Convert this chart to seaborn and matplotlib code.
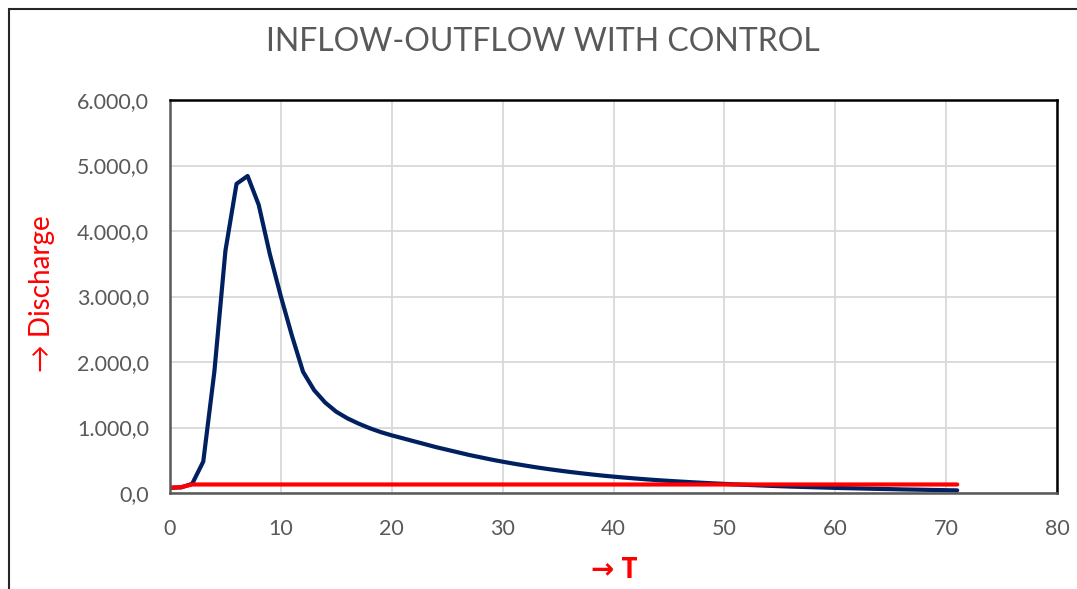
import numpy as np
import pandas as pd
import seaborn as sns
import matplotlib
matplotlib.use('Agg')
import matplotlib.pyplot as plt
from matplotlib.patches import Rectangle
from matplotlib.ticker import FuncFormatter

# hourly hydrograph values
hours = list(range(72))
inflow = [80, 85, 140, 480, 1850, 3700, 4720, 4840, 4400, 3650,
          3000, 2400, 1850, 1570, 1380, 1240, 1140, 1060, 990, 930,
          880, 835, 790, 745, 700, 660, 620, 580, 545, 510,
          478, 448, 420, 393, 368, 345, 323, 303, 284, 266,
          250, 235, 221, 208, 196, 185, 175, 165, 156, 147,
          139, 131, 124, 117, 110, 104, 98, 93, 88, 83,
          78, 74, 70, 66, 62, 59, 55, 52, 49, 46,
          43, 40]
outflow = [80, 90] + [130] * 70

title = "INFLOW-OUTFLOW WITH CONTROL"
xlabel = "\u2192 T"
ylabel = "\u2192 Discharge"

sns.set_style("whitegrid")
plt.rcParams['font.family'] = ['Lato', 'DejaVu Sans']

df = pd.DataFrame({"T": hours, "Inflow": inflow, "Outflow": outflow})

fig = plt.figure(figsize=(10.77, 5.89), dpi=100)
ax = fig.add_axes([170/1077, 1 - 493/589, (1057-170)/1077, (493-100)/589])

sns.lineplot(data=df, x="T", y="Inflow", ax=ax, color="#002060", lw=3.0)
sns.lineplot(data=df, x="T", y="Outflow", ax=ax, color="#FF0000", lw=3.0)

ax.set_xlim(0, 80)
ax.set_ylim(0, 6000)
ax.set_xticks(range(0, 81, 10))
ax.set_yticks(range(0, 6001, 1000))
ax.yaxis.set_major_formatter(FuncFormatter(
    lambda v, p: f"{v:,.1f}".replace(",", "X").replace(".", ",").replace("X", ".")))
ax.grid(True, color="#d9d9d9", lw=1.3)
ax.tick_params(axis='both', labelsize=15.5, colors="#595959", length=0)
ax.tick_params(axis='y', pad=15)
ax.tick_params(axis='x', pad=19)

for s in ['top', 'right']:
    ax.spines[s].set_color('black')
    ax.spines[s].set_linewidth(1.8)
for s in ['left', 'bottom']:
    ax.spines[s].set_color('#595959')
    ax.spines[s].set_linewidth(1.8)

ax.set_xlabel("")
ax.set_ylabel("")
fig.text(614/1077, 1 - 570/589, xlabel, color="red", fontsize=20,
         fontweight='bold', ha='center', va='center',
         family=['Open Sans', 'DejaVu Sans'])
fig.text(42/1077, 1 - 294/589, ylabel, color="red", fontsize=20, rotation=90,
         ha='center', va='center', family=['Lato', 'DejaVu Sans'])
fig.text(543/1077, 1 - 42/589, title, color="#595959", fontsize=23,
         ha='center', va='center')

# chart area border
fig.add_artist(Rectangle((8.5/1077, -0.1), 1.2, 1 - 8.5/589 + 0.1,
                         transform=fig.transFigure, fill=False,
                         edgecolor='#262626', lw=1.5))

fig.savefig("out.png", dpi=100)
